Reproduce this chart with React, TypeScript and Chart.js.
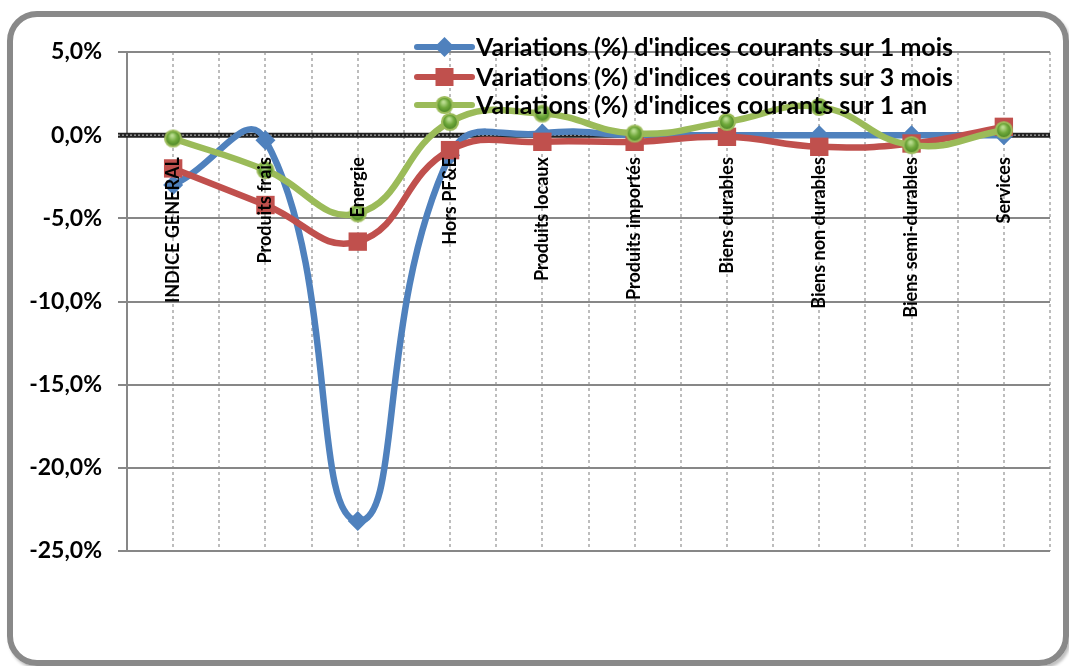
import React, { useEffect, useRef } from "react";
import { Chart, registerables } from "chart.js";

Chart.register(...registerables);

const categories = [
  "INDICE GENERAL",
  "Produits frais",
  "Energie",
  "Hors PF&E",
  "Produits locaux",
  "Produits importés",
  "Biens durables",
  "Biens non durables",
  "Biens semi-durables",
  "Services",
];

const variation1Mois = [-3.0, -0.3, -23.2, -1.2, 0.1, 0.0, 0.0, 0.0, 0.0, 0.0];
const variation3Mois = [-2.0, -4.2, -6.4, -0.9, -0.4, -0.4, -0.1, -0.7, -0.5, 0.5];
const variation1An = [-0.2, -2.1, -4.7, 0.8, 1.3, 0.1, 0.8, 1.7, -0.6, 0.3];

const seriesLabels = [
  "Variations (%) d'indices courants sur 1 mois",
  "Variations (%) d'indices courants sur 3 mois",
  "Variations (%) d'indices courants sur 1 an",
];

const yMin = -25;
const yMax = 5;
const yStep = 5;

const BLUE = "#4F81BD";
const RED = "#C0504D";
const GREEN = "#9BBB59";
const FONT = "Lato, 'Open Sans', sans-serif";

function makeGreenDot(): HTMLCanvasElement {
  const c = document.createElement("canvas");
  c.width = 20;
  c.height = 20;
  const g = c.getContext("2d")!;
  const grad = g.createRadialGradient(9, 7, 1, 10, 10, 9);
  grad.addColorStop(0, "#b9dc8f");
  grad.addColorStop(0.45, "#6fa83a");
  grad.addColorStop(1, "#3f7a20");
  g.beginPath();
  g.arc(10, 10, 8, 0, Math.PI * 2);
  g.fillStyle = grad;
  g.fill();
  g.lineWidth = 2.2;
  g.strokeStyle = GREEN;
  g.stroke();
  return c;
}

function fmt(v: number): string {
  return v.toFixed(1).replace(".", ",") + "%";
}

export default function App() {
  const ref = useRef<HTMLCanvasElement | null>(null);

  useEffect(() => {
    if (!ref.current) return;
    const greenDot = makeGreenDot();

    const zeroLine = {
      id: "zeroLine",
      beforeDatasetsDraw(chart: any) {
        const ctx = chart.ctx;
        const y = chart.scales.y.getPixelForValue(0);
        const left = chart.chartArea.left - 9;
        const right = chart.chartArea.right;
        ctx.save();
        ctx.strokeStyle = "#222";
        ctx.lineWidth = 5;
        ctx.beginPath();
        ctx.moveTo(left, y);
        ctx.lineTo(right, y);
        ctx.stroke();
        ctx.strokeStyle = "#9a9a9a";
        ctx.lineWidth = 1.4;
        ctx.setLineDash([2, 2]);
        ctx.beginPath();
        ctx.moveTo(left, y);
        ctx.lineTo(right, y);
        ctx.stroke();
        ctx.restore();
      },
    };

    const catLabels = {
      id: "catLabels",
      afterDatasetsDraw(chart: any) {
        const ctx = chart.ctx;
        const xs = chart.scales.x;
        const y0 = chart.scales.y.getPixelForValue(0) + 22;
        ctx.save();
        ctx.font = `bold 18px ${FONT}`;
        ctx.fillStyle = "#000";
        ctx.textAlign = "right";
        ctx.textBaseline = "middle";
        categories.forEach((c, i) => {
          const x = xs.getPixelForValue(i);
          ctx.save();
          ctx.translate(x, y0);
          ctx.rotate(-Math.PI / 2);
          ctx.fillText(c, 0, 0);
          ctx.restore();
        });
        ctx.restore();
      },
    };

    const legendPlugin = {
      id: "customLegend",
      afterDatasetsDraw(chart: any) {
        const ctx = chart.ctx;
        const rows = [47, 77, 105];
        const x0 = 417;
        const x1 = 472;
        const xm = (x0 + x1) / 2;
        ctx.save();
        rows.forEach((y, i) => {
          const col = [BLUE, RED, GREEN][i];
          ctx.strokeStyle = col;
          ctx.lineWidth = 6;
          ctx.lineCap = "round";
          ctx.beginPath();
          ctx.moveTo(x0, y);
          ctx.lineTo(x1, y);
          ctx.stroke();
          if (i === 0) {
            ctx.fillStyle = BLUE;
            ctx.beginPath();
            ctx.moveTo(xm, y - 10);
            ctx.lineTo(xm + 10, y);
            ctx.lineTo(xm, y + 10);
            ctx.lineTo(xm - 10, y);
            ctx.closePath();
            ctx.fill();
          } else if (i === 1) {
            ctx.fillStyle = RED;
            ctx.fillRect(xm - 9, y - 9, 18, 18);
          } else {
            ctx.drawImage(greenDot, xm - 10, y - 10);
          }
          ctx.fillStyle = "#000";
          ctx.font = `bold 25px ${FONT}`;
          ctx.textAlign = "left";
          ctx.textBaseline = "middle";
          ctx.fillText(seriesLabels[i], x1 + 4, y + 1);
        });
        ctx.restore();
      },
    };

    const chart = new Chart(ref.current, {
      type: "line",
      data: {
        labels: categories,
        datasets: [
          {
            label: seriesLabels[0],
            data: variation1Mois,
            borderColor: BLUE,
            backgroundColor: BLUE,
            borderWidth: 6.5,
            tension: 0.5,
            pointStyle: "rectRot",
            pointRadius: 10,
            pointBorderWidth: 0,
            pointBackgroundColor: BLUE,
            order: 2,
          },
          {
            label: seriesLabels[1],
            data: variation3Mois,
            borderColor: RED,
            backgroundColor: RED,
            borderWidth: 6.5,
            tension: 0.45,
            pointStyle: "rect",
            pointRadius: 13,
            pointBorderWidth: 0,
            pointBackgroundColor: RED,
            order: 1,
          },
          {
            label: seriesLabels[2],
            data: variation1An,
            borderColor: GREEN,
            backgroundColor: GREEN,
            borderWidth: 6.5,
            tension: 0.45,
            pointStyle: greenDot as any,
            pointRadius: 10,
            order: 0,
          },
        ],
      },
      options: {
        animation: false,
        responsive: false,
        maintainAspectRatio: false,
        devicePixelRatio: 1,
        layout: { padding: { top: 52, bottom: 115, right: 19, left: 0 } },
        plugins: {
          legend: { display: false },
          tooltip: { enabled: false },
        },
        scales: {
          x: {
            type: "category",
            offset: true,
            grid: {
              offset: false,
              color: "#bdbdbd",
              lineWidth: 2,
              drawTicks: false,
            },
            border: { display: false, dash: [3, 3] },
            ticks: { display: false },
          },
          x2: {
            type: "category",
            labels: categories,
            position: "bottom",
            offset: true,
            grid: {
              offset: true,
              color: "#bdbdbd",
              lineWidth: 2,
              drawTicks: false,
            },
            border: { display: false, dash: [3, 3] },
            ticks: { display: false },
          },
          y: {
            min: yMin,
            max: yMax,
            ticks: {
              stepSize: yStep,
              callback: (v: any) => fmt(Number(v)),
              color: "#000",
              font: { family: FONT, size: 23, weight: "bold" },
              padding: 16,
            },
            grid: {
              color: (ctx: any) => (ctx.tick && ctx.tick.value === 0 ? "rgba(0,0,0,0)" : "#878787"),
              lineWidth: 2,
              tickLength: 9,
            },
            border: { display: true, color: "#878787", width: 2 },
            afterFit: (scale: any) => {
              scale.width = 127;
            },
          },
        },
      },
      plugins: [zeroLine, catLabels, legendPlugin],
    });
    return () => chart.destroy();
  }, []);

  return (
    <div style={{ position: "absolute", left: 0, top: 0, width: 1069, height: 666, background: "#fff", overflow: "hidden" }}>
      <div
        style={{
          position: "absolute",
          left: 7,
          top: 11,
          width: 1062,
          height: 655,
          border: "6px solid #898989",
          borderRadius: 30,
          boxSizing: "border-box",
          boxShadow: "2px 3px 3px rgba(0,0,0,0.25)",
        }}
      />
      <canvas ref={ref} width={1069} height={666} style={{ position: "absolute", left: 0, top: 0, width: 1069, height: 666 }} />
    </div>
  );
}
